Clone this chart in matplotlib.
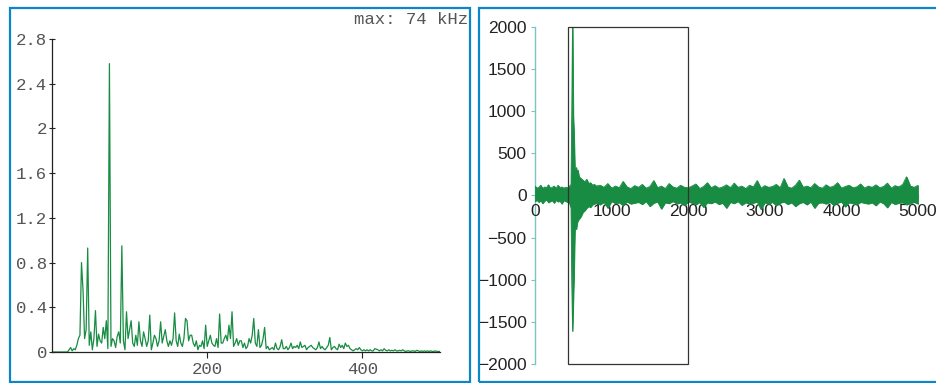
# Spectrum + waveform view, two framed panels
import matplotlib.pyplot as plt
from matplotlib.patches import Rectangle

# spectrum amplitude, one value every 2 kHz from 0 to 500
spec_step = 2
spec_amp = [
    0, 0, 0, 0, 0, 0, 0, 0, 0, 0,
    0, 0.02, 0.04, 0.01, 0.03, 0.02, 0.06, 0.12, 0.15, 0.80,
    0.55, 0.12, 0.20, 0.93, 0.06, 0.18, 0.02, 0.12, 0.37, 0.05,
    0.16, 0.10, 0.08, 0.22, 0.12, 0.28, 0.03, 2.58, 0.05, 0.12,
    0.10, 0.04, 0.14, 0.18, 0.08, 0.95, 0.10, 0.02, 0.36, 0.12,
    0.20, 0.28, 0.08, 0.05, 0.15, 0.06, 0.27, 0.10, 0.05, 0.18,
    0.12, 0.05, 0.10, 0.33, 0.02, 0.08, 0.15, 0.12, 0.05, 0.10,
    0.27, 0.08, 0.14, 0.20, 0.10, 0.05, 0.10, 0.06, 0.12, 0.35,
    0.10, 0.05, 0.16, 0.08, 0.05, 0.12, 0.30, 0.28, 0.10, 0.15,
    0.15, 0.08, 0.05, 0.10, 0.02, 0.06, 0.05, 0.10, 0.03, 0.24,
    0.05, 0.10, 0.15, 0.08, 0.06, 0.05, 0.12, 0.04, 0.34, 0.08,
    0.08, 0.12, 0.15, 0.10, 0.24, 0.12, 0.36, 0.05, 0.08, 0.12,
    0.06, 0.10, 0.10, 0.04, 0.08, 0.03, 0.05, 0.12, 0.08, 0.15,
    0.30, 0.08, 0.05, 0.20, 0.04, 0.06, 0.12, 0.22, 0.03, 0.05,
    0.02, 0.03, 0.04, 0.02, 0.08, 0.03, 0.02, 0.05, 0.11, 0.03,
    0.03, 0.05, 0.02, 0.04, 0.08, 0.03, 0.05, 0.04, 0.06, 0.03,
    0.09, 0.04, 0.05, 0.06, 0.02, 0.04, 0.05, 0.06, 0.04, 0.03,
    0.02, 0.04, 0.09, 0.03, 0.05, 0.03, 0.02, 0.04, 0.06, 0.13,
    0.02, 0.04, 0.05, 0.03, 0.02, 0.07, 0.04, 0.06, 0.03, 0.08,
    0.05, 0.06, 0.03, 0.02, 0.01, 0.02, 0.03, 0.02, 0.04, 0.02,
    0.01, 0.02, 0.01, 0.02, 0.01, 0.02, 0.01, 0.01, 0.03, 0.025,
    0.02, 0.01, 0.02, 0.01, 0.03, 0.015, 0.01, 0.02, 0.01, 0.015,
    0.01, 0.02, 0.01, 0.01, 0.015, 0.01, 0.02, 0.01, 0.005, 0.01,
    0.01, 0.005, 0.01, 0.01, 0.005, 0.015, 0.01, 0.005, 0.01, 0.005,
    0.01, 0.005, 0.01, 0.005, 0.01, 0.005, 0.005, 0.01, 0.005, 0.005, 0.005,
]
spec_freq = [i * spec_step for i in range(len(spec_amp))]
peak_label = "max: 74 kHz"

# waveform: sample positions with upper / lower envelope
wave_x = ([0, 25, 50, 75, 100, 125, 150, 175, 200, 225, 250, 275, 300, 325, 350, 375, 400]
          + [425, 450, 470, 480, 490, 500, 510, 520, 530, 540, 550, 560, 575, 600,
             625, 650, 675, 700, 725, 750, 775, 800]
          + list(range(850, 5001, 50)))
wave_hi = [
    110, 85, 95, 120, 80, 100, 90, 125, 85, 95, 110, 80, 120, 90, 100, 85, 95,
    90, 110, 130, 1000, 2100, 950, 700, 320, 280, 330, 250, 300, 220, 200,
    180, 160, 190, 140, 150, 120, 130, 110,
    120, 95, 140, 85, 110, 90, 165, 100, 80, 115,
    95, 130, 85, 105, 175, 90, 110, 80, 140, 100,
    85, 120, 95, 90, 110, 135, 80, 105, 150, 90,
    115, 85, 100, 125, 90, 145, 95, 110, 80, 120,
    100, 175, 85, 115, 95, 105, 130, 90, 200, 100,
    85, 120, 180, 95, 110, 90, 140, 100, 85, 125,
    95, 110, 150, 85, 105, 120, 90, 100, 135, 85,
    110, 95, 125, 90, 105, 145, 85, 115, 100, 130,
    220, 110, 95, 120,
]
wave_lo = [
    -70, -55, -80, -60, -95, -65, -50, -85, -70, -60, -90, -55, -75, -65, -100, -60, -70,
    -80, -90, -150, -1030, -1610, -1250, -900, -420, -380, -400, -330, -300, -280, -250,
    -200, -180, -150, -130, -140, -110, -100, -90,
    -110, -80, -150, -70, -95, -85, -120, -75, -100, -90,
    -80, -105, -70, -130, -90, -75, -160, -85, -95, -70,
    -100, -85, -120, -75, -90, -110, -80, -140, -85, -95,
    -75, -105, -90, -150, -80, -95, -70, -115, -85, -100,
    -90, -75, -165, -85, -100, -80, -120, -90, -75, -105,
    -85, -130, -95, -80, -110, -75, -150, -90, -85, -100,
    -80, -115, -90, -75, -135, -85, -95, -110, -80, -90,
    -100, -85, -120, -75, -95, -145, -80, -105, -90, -85,
    -110, -95, -80, -100,
]
# selection window on the waveform
sel_start, sel_end = 430, 2000

green = '#178c42'
blue = '#0b87c9'
teal = '#7cc3c3'
mono = 'Liberation Mono'
sans = 'Liberation Sans'

W, H = 937, 383
fig = plt.figure(figsize=(W / 100, H / 100), dpi=100)


def add_ax(x0, x1, ytop, ybot):
    return fig.add_axes([x0 / W, (H - ybot) / H, (x1 - x0) / W, (ybot - ytop) / H])


# panel frames
fig.add_artist(Rectangle((10 / W, (H - 381.5) / H), 460 / W, 373.5 / H,
                         transform=fig.transFigure, fill=False, ec=blue, lw=1.6))
fig.add_artist(Rectangle((479 / W, (H - 381.5) / H), 470 / W, 373.5 / H,
                         transform=fig.transFigure, fill=False, ec=blue, lw=1.6))

# left: spectrum
ax1 = add_ax(52, 440, 39, 352)
ax1.plot(spec_freq, spec_amp, color=green, lw=0.9)
ax1.set_xlim(0, 500)
ax1.set_ylim(0, 2.8)
ax1.set_yticks([0, 0.4, 0.8, 1.2, 1.6, 2, 2.4, 2.8])
ax1.set_yticklabels(['0', '0.4', '0.8', '1.2', '1.6', '2', '2.4', '2.8'])
ax1.set_xticks([200, 400])
for s in ['top', 'right']:
    ax1.spines[s].set_visible(False)
for s in ['left', 'bottom']:
    ax1.spines[s].set_color('#222')
    ax1.spines[s].set_linewidth(0.9)
ax1.tick_params(axis='y', direction='inout', length=5, width=0.8, pad=1, colors='#222',
                labelcolor='#555', labelsize=12.5)
ax1.tick_params(axis='x', direction='out', length=4, width=0.8, pad=3, colors='#222',
                labelcolor='#555', labelsize=12.5)
for lab in ax1.get_xticklabels() + ax1.get_yticklabels():
    lab.set_family(mono)
ax1.patch.set_visible(False)
fig.text(468 / W, 1 - 19 / H, peak_label, ha='right', va='center',
         family=mono, fontsize=12.5, color='#555')

# right: waveform
ax2 = add_ax(535, 918, 26.7, 364)
ax2.fill_between(wave_x, wave_lo, wave_hi, color=green, lw=0.6, zorder=2)
ax2.plot(wave_x, wave_hi, color=green, lw=0.6, zorder=2)
ax2.plot(wave_x, wave_lo, color=green, lw=0.6, zorder=2)
ax2.add_patch(Rectangle((sel_start, -2000), sel_end - sel_start, 4000,
                        fill=False, ec='#333', lw=0.9, zorder=3, clip_on=False))
ax2.set_xlim(0, 5000)
ax2.set_ylim(-2000, 2000)
ax2.set_xticks([0, 1000, 2000, 3000, 4000, 5000])
ax2.set_yticks([-2000, -1500, -1000, -500, 0, 500, 1000, 1500, 2000])
ax2.spines['bottom'].set_position(('data', 0))
for s in ['top', 'right']:
    ax2.spines[s].set_visible(False)
for s in ['left', 'bottom']:
    ax2.spines[s].set_color(teal)
    ax2.spines[s].set_linewidth(1.0)
    ax2.spines[s].set_zorder(1)
ax2.xaxis.set_zorder(1)
ax2.tick_params(direction='out', length=3, width=0.8, pad=3, colors=teal,
                labelcolor='#222', labelsize=12.5)
for lab in ax2.get_xticklabels() + ax2.get_yticklabels():
    lab.set_family(sans)
ax2.patch.set_visible(False)

fig.savefig('out.png', dpi=100)
